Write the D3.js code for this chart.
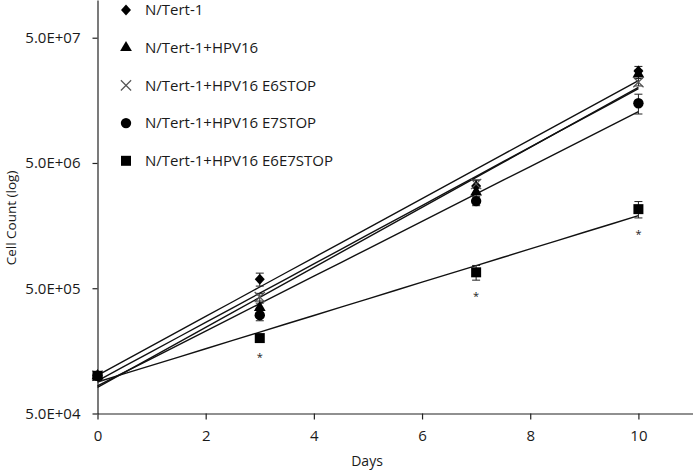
<!DOCTYPE html>
<html>
<head>
<meta charset="utf-8">
<script src="https://cdn.jsdelivr.net/npm/d3@7"></script>
<style>
  html, body { margin: 0; padding: 0; background: #fff; }
  svg { display: block; font-family: "Open Sans", "Noto Sans", sans-serif; }
</style>
</head>
<body>
<svg id="chart" width="694" height="470"></svg>
<script>
// ---- data ----
const days = [0, 3, 7, 10];
const seriesNames = ["N/Tert-1", "N/Tert-1+HPV16", "N/Tert-1+HPV16 E6STOP", "N/Tert-1+HPV16 E7STOP", "N/Tert-1+HPV16 E6E7STOP"];
const ntert      = [1.0e5, 5.9e5,  3.27e6, 2.71e7];
const hpv16      = [1.0e5, 3.5e5,  2.93e6, 2.56e7];
const e6stop     = [1.0e5, 4.25e5, 3.4e6,  2.21e7];
const e7stop     = [1.0e5, 3.05e5, 2.48e6, 1.5e7];
const e6e7stop   = [1.0e5, 2.0e5,  6.7e5,  2.14e6];
const ntertErr    = [0, 0.7e5, 3.8e5, 2.4e6];
const hpv16Err    = [0, 0.3e5, 2.5e5, 2.0e6];
const e6stopErr   = [0, 0.3e5, 2.5e5, 1.5e6];
const e7stopErr   = [0, 0.3e5, 2.0e5, 2.7e6];
const e6e7stopErr = [0, 0.1e5, 0.9e5, 3.2e5];
const significant = [false, true, true, true]; // asterisks under E6E7STOP
const yTickValues = [5e4, 5e5, 5e6, 5e7];
const yTickLabels = ["5.0E+04", "5.0E+05", "5.0E+06", "5.0E+07"];
const xTickValues = [0, 2, 4, 6, 8, 10];
const xTitle = "Days";
const yTitle = "Cell Count (log)";

const seriesValues = [ntert, hpv16, e6stop, e7stop, e6e7stop];
const seriesErrs = [ntertErr, hpv16Err, e6stopErr, e7stopErr, e6e7stopErr];
const markerTypes = ["diamond", "triangle", "cross", "circle", "square"];

// ---- layout ----
const svg = d3.select("#chart");
const x = d3.scaleLinear().domain([0, 11]).range([97.5, 692.5]);
const y = d3.scaleLog().domain([5e4, 1e8]).range([413.5, 0]);

// axes
const xAxis = svg.append("g").attr("transform", `translate(0,${y(5e4)})`)
  .call(d3.axisBottom(x).tickValues(xTickValues).tickSizeInner(6).tickSizeOuter(0).tickPadding(11).tickFormat(d3.format("d")));
const yAxis = svg.append("g").attr("transform", `translate(${x(0)},0)`)
  .call(d3.axisLeft(y).tickValues(yTickValues).tickSizeInner(5).tickSizeOuter(0).tickPadding(12)
    .tickFormat((d, i) => yTickLabels[i]));
[xAxis, yAxis].forEach(g => {
  g.selectAll("path, line").attr("stroke", "#222").attr("stroke-width", 1.2);
  g.selectAll("text").attr("font-size", 15).attr("fill", "#1a1a1a").attr("font-family", "Open Sans, sans-serif");
});

svg.append("text").attr("x", 367).attr("y", 466).attr("text-anchor", "middle")
  .attr("font-size", 14).attr("fill", "#1a1a1a").text(xTitle);
svg.append("text").attr("transform", "translate(15.5,218) rotate(-90)").attr("text-anchor", "middle")
  .attr("font-size", 13.5).attr("fill", "#1a1a1a").text(yTitle);

// exponential trendlines (least squares on log values)
function expFit(vals) {
  const ly = vals.map(v => Math.log(v));
  const mx = d3.mean(days), my = d3.mean(ly);
  let sxy = 0, sxx = 0;
  days.forEach((d, i) => { sxy += (d - mx) * (ly[i] - my); sxx += (d - mx) * (d - mx); });
  const b = sxy / sxx, a = my - b * mx;
  return t => Math.exp(a + b * t);
}
const trendX = d3.range(0, 10.001, 0.5);
seriesValues.forEach(vals => {
  const f = expFit(vals);
  svg.append("path")
    .attr("d", d3.line().x(t => x(t)).y(t => y(f(t)))(trendX))
    .attr("fill", "none").attr("stroke", "#111").attr("stroke-width", 1.4);
});

// markers
const sym = {
  diamond: () => "M0,-5.5L5,0L0,5.5L-5,0Z",
  triangle: d3.symbol().type(d3.symbolTriangle).size(60),
  cross: d3.symbol().type(d3.symbolX).size(70),
  circle: d3.symbol().type(d3.symbolCircle).size(85),
  square: d3.symbol().type(d3.symbolSquare).size(100)
};
function drawMarker(g, type, cx, cy) {
  const p = g.append("path").attr("d", sym[type]()).attr("transform", `translate(${cx},${cy})`);
  if (type === "cross") p.attr("fill", "none").attr("stroke", "#555").attr("stroke-width", 1.2);
  else p.attr("fill", "#000");
}

// error bars
seriesValues.forEach((vals, s) => {
  const errs = seriesErrs[s];
  const g = svg.append("g");
  days.forEach((d, i) => {
    if (!errs[i]) return;
    const cx = x(d), y1 = y(vals[i] + errs[i]), y2 = y(vals[i] - errs[i]);
    g.append("line").attr("x1", cx).attr("x2", cx).attr("y1", y1).attr("y2", y2).attr("stroke", "#222").attr("stroke-width", 1);
    [y1, y2].forEach(yy => g.append("line").attr("x1", cx - 4).attr("x2", cx + 4).attr("y1", yy).attr("y2", yy)
      .attr("stroke", "#222").attr("stroke-width", 1));
  });
});
seriesValues.forEach((vals, s) => {
  const g = svg.append("g");
  days.forEach((d, i) => drawMarker(g, markerTypes[s], x(d), y(vals[i])));
});

// asterisks under E6E7STOP
days.forEach((d, i) => {
  if (!significant[i]) return;
  svg.append("text").attr("x", x(d)).attr("y", y(e6e7stop[i] - e6e7stopErr[i]) + 20)
    .attr("text-anchor", "middle").attr("font-size", 11).attr("fill", "#222").text("*");
});

// legend
const legend = svg.append("g");
seriesNames.forEach((name, i) => {
  const ly = 10 + i * 37.7;
  drawMarker(legend, markerTypes[i], 126, ly);
  legend.append("text").attr("x", 145).attr("y", ly).attr("dy", "0.35em")
    .attr("font-size", 15).attr("fill", "#1a1a1a").text(name);
});
</script>
</body>
</html>
